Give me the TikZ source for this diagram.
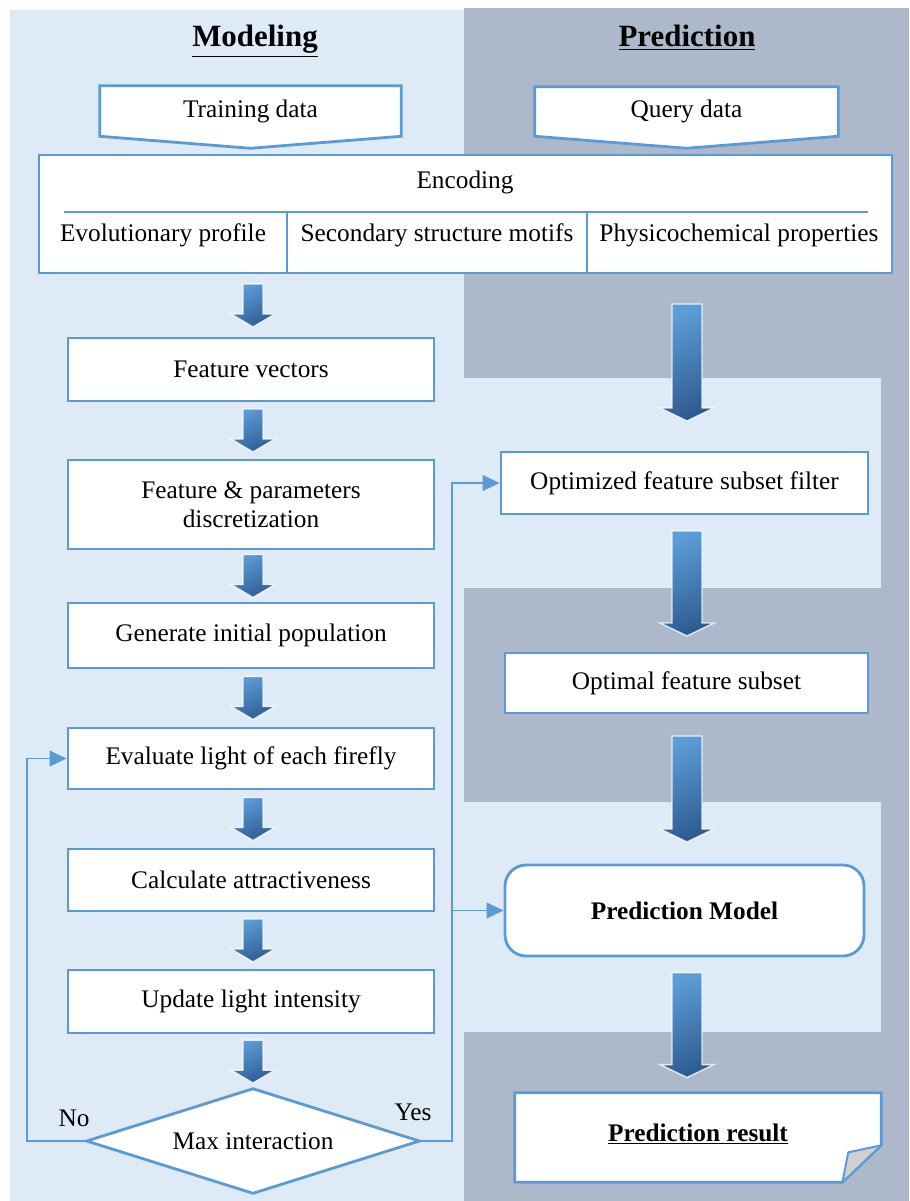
\documentclass[tikz,border=0pt]{standalone}
\usepackage{fontspec}
\setmainfont{Liberation Serif}
\usetikzlibrary{arrows.meta, calc, backgrounds}
\definecolor{panelLight}{RGB}{222,234,246}
\definecolor{panelDark}{RGB}{173,185,202}
\definecolor{boxBlue}{RGB}{91,155,213}
\definecolor{arrowLight}{RGB}{93,157,215}
\definecolor{arrowDark}{RGB}{46,92,145}
\definecolor{foldGray}{RGB}{208,208,208}

\newcommand{\txt}{\fontsize{18}{21}\selectfont}
\newcommand{\titlefont}{\fontsize{22}{26}\selectfont\bfseries}

\tikzset{
  size/.style 2 args={minimum width=#1*0.025cm, minimum height=#2*0.025cm},
  box/.style={draw=boxBlue, line width=2pt, fill=white, inner sep=0pt, align=center, font=\txt},
  bare/.style={inner sep=0pt, align=center, font=\txt},
  outline/.style={draw=boxBlue, line width=2pt, fill=white},
  conn/.style={draw=boxBlue, line width=1.4pt, -{Triangle[length=12pt,width=11pt]}},
  arrowshade/.style={top color=arrowLight, bottom color=arrowDark, shading angle=25,
    draw=white, draw opacity=0.8, line width=1pt},
}

% block arrow: column, upper node, lower node, length, shaft half, head half
\newcommand{\blockarrow}[6]{%
  \coordinate (bam0) at ($(#2.south)!0.5!(#3.north)$);
  \coordinate (bam) at (#1 |- bam0);
  \shadedraw[arrowshade] ($(bam)+(-#5,-#4/2)$) -- ($(bam)+(-#5,#4/2-13)$)
    -- ($(bam)+(-#6,#4/2-13)$) -- ($(bam)+(0,#4/2)$) -- ($(bam)+(#6,#4/2-13)$)
    -- ($(bam)+(#5,#4/2-13)$) -- ($(bam)+(#5,-#4/2)$) -- cycle;
}

\begin{document}
\begin{tikzpicture}[x=0.025cm, y=-0.025cm]
    \useasboundingbox (0,0) rectangle (909,1201);

    % Panels
    \begin{scope}[on background layer]
        \fill[panelLight] (10,10) rectangle (464,1201);
        \fill[panelDark] (464,8) rectangle (909,1201);
        \fill[panelLight] (464,378) rectangle (881,588);
        \fill[panelLight] (464,802) rectangle (881,1032);
    \end{scope}

    % Titles
    \node[bare, font=\titlefont, anchor=base] (mtitle) at (255,47) {\underline{Modeling}};
    \node[bare, font=\titlefont, anchor=base] (ptitle) at (687,47) {\underline{Prediction}};

    % Input data
    \node[bare, size={301}{50}] (train) at (250.5,111) {\raisebox{-3pt}{Training data}};
    \node[bare, size={303}{49}] (query) at (686.5,111.5) {\raisebox{-3pt}{Query data}};
    \begin{scope}[on background layer]
        \filldraw[outline] (train.north west) -- (train.north east) -- (train.south east)
            -- ($(train.south)+(0,12)$) -- (train.south west) -- cycle;
        \filldraw[outline] (query.north west) -- (query.north east) -- (query.south east)
            -- ($(query.south)+(0,12)$) -- (query.south west) -- cycle;
    \end{scope}

    % Encoding
    \node[box, size={853}{118}] (enc) at (465.5,214) {};
    \node[bare] (enctitle) at (465,182) {Encoding};
    \draw[boxBlue, line width=1.4pt] (64,212) -- (868,212);
    \draw[boxBlue, line width=0.8pt] (287,212) -- (287,273) (587,212) -- (587,273);
    \node[bare] (evo) at (163,235) {Evolutionary profile};
    \node[bare] (sec) at (437,235) {Secondary structure motifs};
    \node[bare] (phys) at (739,235) {Physicochemical properties};

    % Modeling steps
    \node[box, size={366}{63}] (fv) at (251,369.5) {Feature vectors};
    \node[box, size={366}{89}] (disc) at (251,504.5) {Feature \& parameters\\discretization};
    \node[box, size={366}{65}] (gen) at (251,635.5) {Generate initial population};
    \node[box, size={366}{61}] (light) at (251,758.5) {Evaluate light of each firefly};
    \node[box, size={366}{62}] (attr) at (251,880) {Calculate attractiveness};
    \node[box, size={366}{63}] (upd) at (251,1001.5) {Update light intensity};
    \node[bare, size={332}{104}] (dia) at (253,1141) {Max interaction};
    \begin{scope}[on background layer]
        \filldraw[outline] (dia.north) -- (dia.east) -- (dia.south) -- (dia.west) -- cycle;
    \end{scope}

    % Prediction steps
    \node[box, size={367}{62}] (opt) at (684.5,483) {Optimized feature subset filter};
    \node[box, size={363}{60}] (optimal) at (686.5,683) {Optimal feature subset};
    \node[box, size={359}{91}, rounded corners=15pt, font=\txt\bfseries] (pm) at (684.5,910.5) {Prediction Model};
    \node[bare, size={366}{89}, font=\txt\bfseries] (res) at (698,1137.5) {\raisebox{7pt}{\underline{Prediction result}}};
    \begin{scope}[on background layer]
        \filldraw[outline] (res.north west) -- (res.north east) -- ($(res.south east)+(0,-37)$)
            -- ($(res.south east)+(-39,0)$) -- (res.south west) -- cycle;
    \end{scope}
    \filldraw[draw=boxBlue, line width=1.4pt, fill=foldGray, line join=round]
        ($(res.south east)+(-39,0)$) -- ($(res.south east)+(-33,-30)$) -- ($(res.south east)+(0,-37)$) -- cycle;

    % Block arrows
    \coordinate (lcol) at (253,0);
    \coordinate (rcol) at (687,0);
    \blockarrow{lcol}{enc}{fv}{43}{10}{22}
    \blockarrow{lcol}{fv}{disc}{43}{10}{22}
    \blockarrow{lcol}{disc}{gen}{43}{10}{22}
    \blockarrow{lcol}{gen}{light}{43}{10}{22}
    \blockarrow{lcol}{light}{attr}{43}{10}{22}
    \blockarrow{lcol}{attr}{upd}{43}{10}{22}
    \blockarrow{lcol}{upd}{dia}{43}{10}{22}
    \blockarrow{rcol}{enc}{opt}{117}{15}{27}
    \blockarrow{rcol}{opt}{optimal}{105}{15}{27}
    \blockarrow{rcol}{optimal}{pm}{106}{15}{27}
    \blockarrow{rcol}{pm}{res}{105}{15}{27}

    % Loop connectors
    \draw[conn] (dia.west) -- ++(-60,0) |- (light.west);
    \draw[conn] (dia.east) -- ++(33,0) coordinate (yes) |- (opt.west);
    \draw[conn] (yes) |- (pm.west);
    \node[bare] (no) at (74,1118) {No};
    \node[bare] (yeslbl) at (413,1112) {Yes};

\end{tikzpicture}
\end{document}
